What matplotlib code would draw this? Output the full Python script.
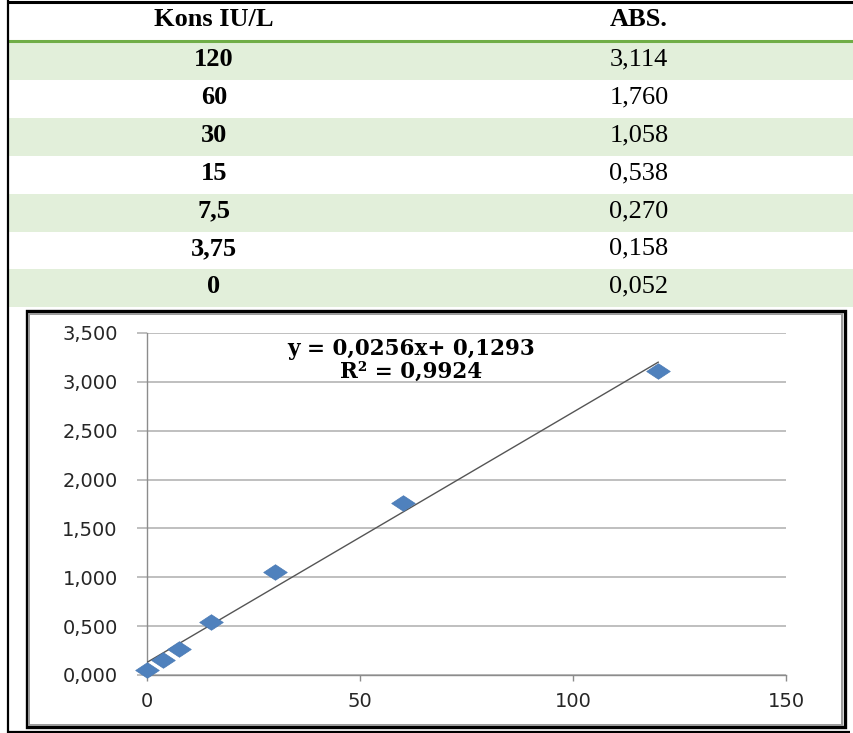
import matplotlib
matplotlib.use("Agg")
import matplotlib.pyplot as plt
from matplotlib.patches import Rectangle
from matplotlib.ticker import FuncFormatter

# Calibration data: concentration (IU/L) and absorbance
kons = [120, 60, 30, 15, 7.5, 3.75, 0]
absorbance = [3.114, 1.760, 1.058, 0.538, 0.270, 0.158, 0.052]
header = ["Kons IU/L", "ABS."]

# Linear trendline reported for the calibration
slope = 0.0256
intercept = 0.1293
r_squared = 0.9924

x_ticks = [0, 50, 100, 150]
y_ticks = [0.0, 0.5, 1.0, 1.5, 2.0, 2.5, 3.0, 3.5]


def comma(v, digits=None):
    s = f"{v:.{digits}f}" if digits is not None else f"{v:g}"
    return s.replace(".", ",")


W, H = 854, 733
fig = plt.figure(figsize=(W / 100, H / 100), dpi=100)

# Page layer in pixel coordinates
bg = fig.add_axes([0, 0, 1, 1])
bg.set_xlim(0, W)
bg.set_ylim(H, 0)
bg.axis("off")

green_band = "#E2EFDA"
row_top = 42
row_h = 37.9
for i in range(len(kons)):
    if i % 2 == 0:
        bg.add_patch(Rectangle((9, row_top + i * row_h), W - 9, row_h,
                               facecolor=green_band, edgecolor="none", zorder=1))

bg.plot([8, W], [41, 41], color="#70AD47", lw=2.2, zorder=2, solid_capstyle="butt")

# Page border lines
bg.plot([8, W], [1.5, 1.5], color="black", lw=2.2, zorder=3, solid_capstyle="butt")
bg.plot([8, 8], [0, H], color="black", lw=1.6, zorder=3, solid_capstyle="butt")
bg.plot([8, 850], [731.5, 731.5], color="black", lw=1.6, zorder=3, solid_capstyle="butt")

col1_x, col2_x = 214, 639
serif = "Liberation Serif"
tfs = 19
bg.text(col1_x, 20, header[0], ha="center", va="center", fontsize=tfs,
        fontweight="bold", family=serif, zorder=4)
bg.text(col2_x, 20, header[1], ha="center", va="center", fontsize=tfs,
        fontweight="bold", family=serif, zorder=4)
for i, (k, a) in enumerate(zip(kons, absorbance)):
    yc = row_top + (i + 0.5) * row_h - 1.5
    bg.text(col1_x, yc, comma(k), ha="center", va="center", fontsize=tfs,
            fontweight="bold", family=serif, zorder=4)
    bg.text(col2_x, yc, comma(a, 3), ha="center", va="center", fontsize=tfs,
            family=serif, zorder=4)

# Chart frame: black outer border with grey inner edge
bg.add_patch(Rectangle((27, 311), 818, 416, facecolor="white",
                       edgecolor="black", lw=2.4, zorder=2))
bg.add_patch(Rectangle((29.5, 313.5), 813, 411, facecolor="none",
                       edgecolor="#9A9A9A", lw=1.4, zorder=2))

# Scatter chart
ax = fig.add_axes([147 / W, (H - 675) / H, (786 - 147) / W, (675 - 333) / H])
ax.set_zorder(5)
ax.patch.set_alpha(0)
ax.set_xlim(0, 150)
ax.set_ylim(0, 3.5)
ax.set_xticks(x_ticks)
ax.set_yticks(y_ticks)
ax.yaxis.set_major_formatter(FuncFormatter(lambda v, p: comma(v, 3)))
ax.xaxis.set_major_formatter(FuncFormatter(lambda v, p: f"{v:g}"))

for s in ["top", "right"]:
    ax.spines[s].set_visible(False)
for s in ["left", "bottom"]:
    ax.spines[s].set_color("#8C8C8C")
    ax.spines[s].set_linewidth(1.0)

ax.grid(axis="y", color="#BABABA", lw=1.3)
ax.set_axisbelow(True)
ax.tick_params(axis="y", length=7, width=1.3, color="#BABABA", pad=14,
               labelsize=14, labelcolor="#262626")
ax.tick_params(axis="x", length=4.5, width=1.0, color="#8C8C8C", pad=8,
               labelsize=14, labelcolor="#262626")
for lab in ax.get_xticklabels() + ax.get_yticklabels():
    lab.set_family("DejaVu Sans")

# Trendline over the data range
x_fit = [min(kons), max(kons)]
y_fit = [slope * x + intercept for x in x_fit]
ax.plot(x_fit, y_fit, color="#555555", lw=1.0, zorder=3)

diamond = [(-1, 0), (0, 0.66), (1, 0), (0, -0.66), (-1, 0)]
ax.scatter(kons, absorbance, marker=diamond, s=17 ** 2, color="#4F81BD",
           edgecolors="#4A7AB4", linewidths=0.5, zorder=4, clip_on=False)

ax.text(62, 3.22, f"y = {comma(slope)}x+ {comma(intercept)}\nR² = {comma(r_squared)}",
        ha="center", va="center", fontsize=15.5, fontweight="bold",
        family="DejaVu Serif", linespacing=1.0, zorder=5)

fig.savefig("out.png", dpi=100)
